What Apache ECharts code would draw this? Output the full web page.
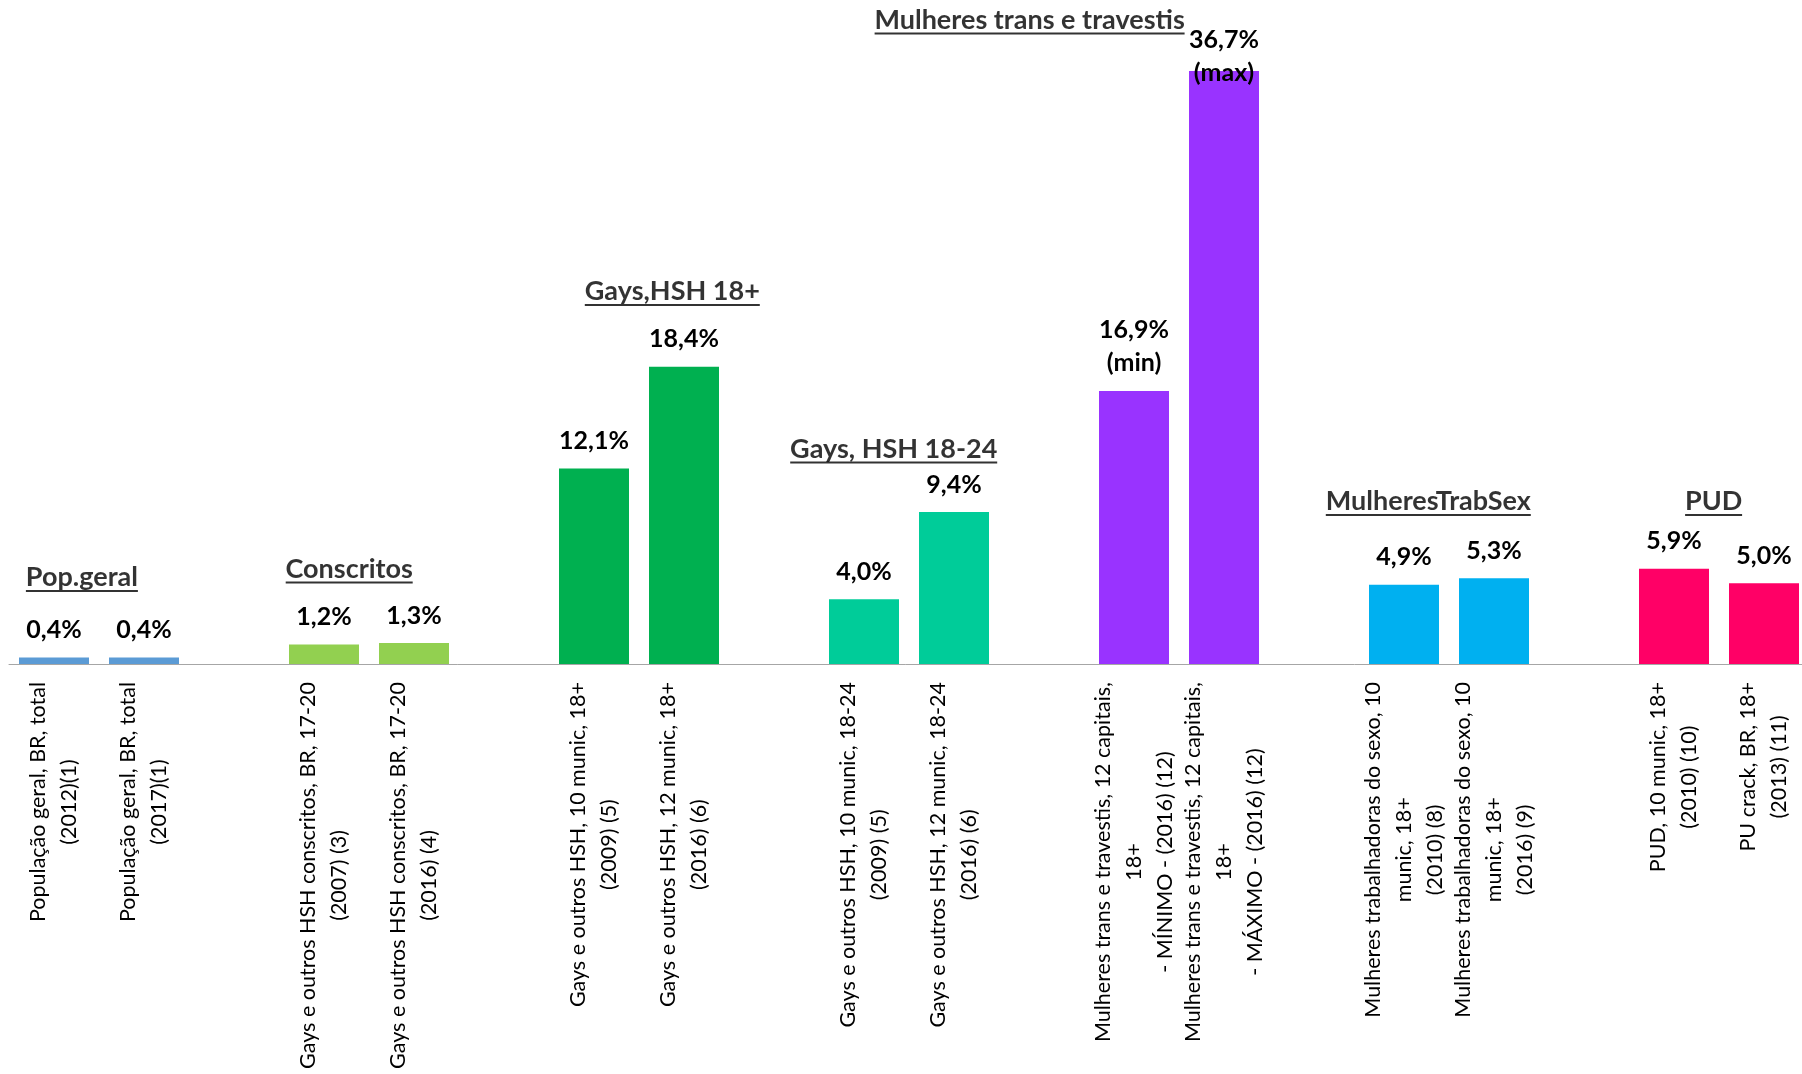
<!DOCTYPE html>
<html>
<head>
<meta charset="utf-8">
<script src="https://cdn.jsdelivr.net/npm/echarts@6/dist/echarts.min.js"></script>
<style>
  html, body { margin: 0; padding: 0; background: #fff; }
  #chart { width: 1802px; height: 1074px; }
</style>
</head>
<body>
<div id="chart"></div>
<script>
// ---------- DATA ----------
const categories = [
  "População geral, BR, total\n(2012)(1)",
  "População geral, BR, total\n(2017)(1)",
  "",
  "Gays e outros HSH conscritos, BR, 17-20\n(2007) (3)",
  "Gays e outros HSH conscritos, BR, 17-20\n(2016) (4)",
  "",
  "Gays e outros HSH, 10 munic, 18+\n(2009) (5)",
  "Gays e outros HSH, 12 munic, 18+\n(2016) (6)",
  "",
  "Gays e outros HSH, 10 munic, 18-24\n(2009) (5)",
  "Gays e outros HSH, 12 munic, 18-24\n(2016) (6)",
  "",
  "Mulheres trans e travestis, 12 capitais,\n18+\n- MÍNIMO - (2016) (12)",
  "Mulheres trans e travestis, 12 capitais,\n18+\n- MÁXIMO - (2016) (12)",
  "",
  "Mulheres trabalhadoras do sexo, 10\nmunic, 18+\n(2010) (8)",
  "Mulheres trabalhadoras do sexo, 10\nmunic, 18+\n(2016) (9)",
  "",
  "PUD, 10 munic, 18+\n(2010) (10)",
  "PU crack, BR, 18+\n(2013) (11)"
];
const values = [0.4, 0.4, null, 1.2, 1.3, null, 12.1, 18.4, null, 4.0, 9.4, null, 16.9, 36.7, null, 4.9, 5.3, null, 5.9, 5.0];
const valueNotes = ["", "", "", "", "", "", "", "", "", "", "", "", "(min)", "(max)", "", "", "", "", "", ""];
const groupNames = ["Pop.geral", "Conscritos", "Gays,HSH 18+", "Gays, HSH 18-24", "Mulheres trans e travestis", "MulheresTrabSex", "PUD"];

// ---------- STYLE / LAYOUT ----------
const groupColors = ["#5B9BD5", "#92D050", "#00B050", "#00CC99", "#9933FF", "#00B0F0", "#FF0066"];
// anchor of each group title in data space: [x in category units (0..20), y in %]
const titleAnchors = [[0.81, 5.2], [3.78, 5.72], [7.37, 22.9], [9.83, 13.15], [11.34, 39.7], [15.77, 9.9], [18.94, 9.9]];
const FONT = "Lato";
const TITLE_SIZE = 27;
const AXIS_SIZE = 21.5;

const chart = echarts.init(document.getElementById('chart'), null, { renderer: 'canvas' });

const ctx = document.createElement('canvas').getContext('2d');
ctx.font = 'bold ' + TITLE_SIZE + 'px ' + FONT;

const barData = values.map((v, i) => {
  const g = Math.floor(i / 3);
  const item = { value: v, itemStyle: { color: groupColors[g] } };
  if (valueNotes[i] === "(max)") {
    item.label = { offset: [0, 30] };
  }
  return item;
});

const titleRich = {
  t: { fontFamily: FONT, fontWeight: 'bold', fontSize: TITLE_SIZE, lineHeight: 22, color: '#000', align: 'center' }
};
groupNames.forEach((n, i) => {
  titleRich['u' + i] = { width: Math.round(ctx.measureText(n).width), height: 2, lineHeight: 5, fontSize: 1, backgroundColor: '#000', align: 'center' };
});

const titleData = groupNames.map((n, i) => ({ value: titleAnchors[i], name: n }));

const option = {
  animation: false,
  backgroundColor: '#ffffff',
  grid: { left: 9, width: 1800, top: 17.6, bottom: 410, containLabel: false, outerBoundsMode: 'none' },
  xAxis: [
    {
      type: 'category',
      data: categories,
      axisLine: { show: true, lineStyle: { color: '#a6a6a6', width: 1 } },
      axisTick: { show: false },
      axisLabel: {
        interval: 0,
        rotate: 90,
        margin: 18,
        color: '#000',
        fontFamily: FONT,
        fontSize: AXIS_SIZE,
        formatter: function (val) {
          if (!val) return '';
          return val.split('\n').map(l => '{c|' + l + '}').join('\n');
        },
        rich: {
          c: { fontFamily: FONT, fontSize: AXIS_SIZE, lineHeight: 31, color: '#000', align: 'center' }
        }
      }
    },
    { type: 'value', min: 0, max: 20, show: false }
  ],
  yAxis: {
    type: 'value', min: 0, max: 40, show: false,
    splitLine: { show: false }
  },
  series: [
    {
      type: 'bar',
      xAxisIndex: 0,
      data: barData,
      barWidth: 70,
      label: {
        show: true,
        position: 'top',
        distance: 11,
        color: '#000',
        fontFamily: FONT,
        fontWeight: 'bold',
        fontSize: 25,
        lineHeight: 33,
        formatter: function (p) {
          const s = p.value.toFixed(1).replace('.', ',') + '%';
          const note = valueNotes[p.dataIndex];
          return note ? s + '\n' + note : s;
        }
      }
    },
    {
      type: 'scatter',
      xAxisIndex: 1,
      symbolSize: 0,
      silent: true,
      clip: false,
      data: titleData,
      label: {
        show: true,
        position: 'inside',
        formatter: function (p) {
          return '{t|' + p.name + '}\n{u' + p.dataIndex + '| }';
        },
        rich: titleRich
      }
    }
  ]
};
chart.setOption(option);
</script>
</body>
</html>
